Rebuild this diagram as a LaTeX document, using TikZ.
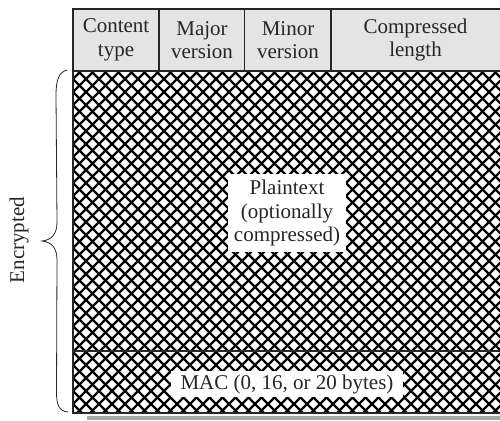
\documentclass[tikz,border=0pt]{standalone}
\usepackage{fontspec}
\setmainfont{Liberation Serif}
\definecolor{headgray}{HTML}{E4E4E4}
\definecolor{shadowgray}{HTML}{A8A8A8}
\begin{document}
\begin{tikzpicture}[x=1pt,y=-1pt,
  lbl/.style={font=\fontsize{21}{23.5}\selectfont, align=center, inner sep=0pt, text=black!85},
  hatch/.style={line width=2.3pt, black},
  border/.style={line width=2pt, black!85},
  divider/.style={line width=1.6pt, black!85},
  bracestyle/.style={line width=0.8pt, black!85}]
\useasboundingbox (0,0) rectangle (500,420);
% shadow
\fill[shadowgray] (87,415.5) rectangle (500,420);
% header fill
\fill[headgray] (73,9) rectangle (500,71);
% crosshatch
\begin{scope}
  \clip (73,71) rectangle (500,413);
  \foreach \c in {-362,-349,...,520} \draw[hatch] (\c,60) -- ++(360,360);
  \foreach \c in {66,79,...,890} \draw[hatch] (\c,60) -- ++(-360,360);
\end{scope}
% borders
\draw[border] (500,9) -- (73,9) -- (73,413) -- (500,413);
\draw[border] (73,71) -- (500,71);
\draw[border] (73,351) -- (500,351);
\draw[divider] (159,9) -- (159,71);
\draw[divider] (244.5,9) -- (244.5,71);
\draw[divider] (331,9) -- (331,71);
% header labels
\node[lbl] (ct) at (116,40) {Content\\type};
\node[lbl] (maj) at (202,40) {Major\\version};
\node[lbl] (min) at (288,40) {Minor\\version};
\node[lbl] (len) at (415.5,40) {Compressed\\length};
% body labels
\node[lbl, fill=white, inner xsep=6pt, inner ysep=6pt] (pt) at (287,213) {Plaintext\\(optionally\\compressed)};
\node[lbl, fill=white, inner xsep=10pt, inner ysep=3pt] (mac) at (287,384) {MAC (0, 16, or 20 bytes)};
% brace
\coordinate (btop) at (67,70);
\coordinate (btip) at (42,241);
\coordinate (bbot) at (68,412);
\draw[bracestyle] (btop) .. controls (59,72) and (56,80) .. (56,95) -- (57,222)
  .. controls (57,235) and (51,240) .. (btip)
  .. controls (51,242) and (57,247) .. (57,260) -- (56.5,392)
  .. controls (56.5,405) and (59,411) .. (bbot);
\node[lbl, rotate=90] (enc) at (19,240) {Encrypted};
\end{tikzpicture}
\end{document}
